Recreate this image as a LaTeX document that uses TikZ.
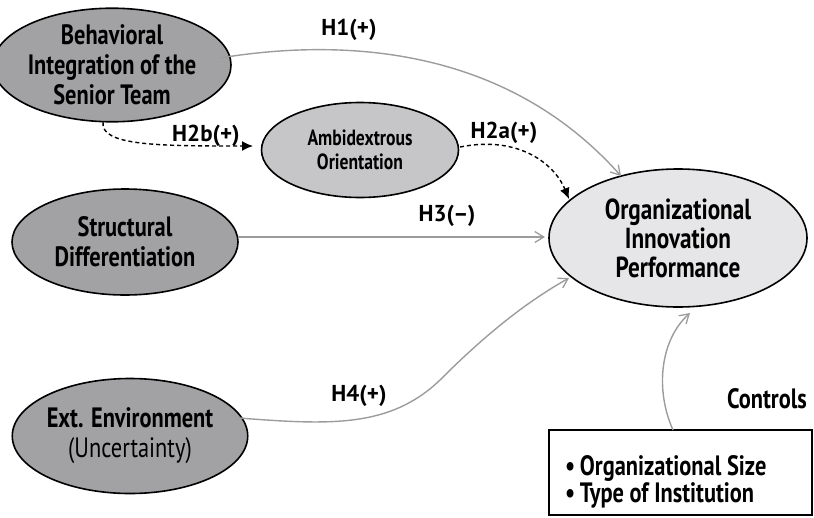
\documentclass[tikz,border=0pt]{standalone}
\usepackage{fontspec}
\setmainfont{PT Sans}
\newfontfamily\cond[FakeStretch=0.8]{PT Sans}
\usetikzlibrary{shapes.geometric,arrows.meta}
\definecolor{darkfill}{HTML}{A2A2A4}
\definecolor{midfill}{HTML}{C6C6C8}
\definecolor{lightfill}{HTML}{E6E6E8}
\definecolor{arrgray}{HTML}{9C9C9C}
\tikzset{
  blob/.style={ellipse, draw=black, line width=1.6pt, inner sep=0pt, align=center, font=\cond\bfseries\fontsize{28}{30}\selectfont},
  garrow/.style={draw=arrgray, line width=1.4pt, -{Straight Barb[length=9pt,width=11pt,line width=1.3pt]}},
  darrow/.style={draw=black, line width=1.4pt, dash pattern=on 4pt off 3pt, -{Latex[length=11pt,width=10pt]}},
  hlabel/.style={font=\bfseries\fontsize{23}{25}\selectfont},
}
\begin{document}
\begin{tikzpicture}[x=1pt,y=-1pt]
\useasboundingbox (0,0) rectangle (814,517);
\node[blob, fill=darkfill, minimum width=216pt, minimum height=108pt] (bi) at (112,65) {Behavioral\\Integration of the\\Senior Team};
\node[blob, fill=midfill, minimum width=197pt, minimum height=95pt, font=\cond\bfseries\fontsize{22}{24}\selectfont] (ao) at (360,150) {Ambidextrous\\Orientation};
\node[blob, fill=darkfill, minimum width=226pt, minimum height=106pt] (sd) at (125,242) {Structural\\Differentiation};
\node[blob, fill=darkfill, minimum width=215pt, minimum height=115pt] (ee) at (130,436) {Ext. Environment\\{\mdseries (Uncertainty)}};
\node[blob, fill=lightfill, minimum width=258pt, minimum height=138pt, font=\cond\bfseries\fontsize{29}{29}\selectfont] (oi) at (678,238) {Organizational\\Innovation\\Performance};
\node[draw=black, line width=1.3pt, minimum width=263pt, minimum height=85pt, inner sep=0pt] (cb) at (680.5,472.5) {};
\node[anchor=west, align=left, inner sep=0pt, font=\cond\bfseries\fontsize{28}{27}\selectfont] (cl) at (565,482) {\textbullet\,Organizational Size\\\textbullet\,Type of Institution};
\node[font=\cond\bfseries\fontsize{28}{28}\selectfont] (ct) at (767,399) {Controls};
\coordinate (h1s) at (220,58);
\coordinate (h1e) at (621,176);
\draw[garrow] (h1s) .. controls (330,40) and (500,40) .. (h1e);
\node[hlabel] (l1) at (349,30) {H1(+)};
\coordinate (h2bs) at (103,122);
\coordinate (h2be) at (253,146);
\draw[darrow] (h2bs) .. controls (100,146) and (160,146) .. (h2be);
\node[hlabel] (l2b) at (206,136) {H2b(+)};
\coordinate (h2as) at (460,147);
\coordinate (h2ae) at (569,199);
\draw[darrow] (h2as) .. controls (520,135) and (555,165) .. (h2ae);
\node[hlabel] (l2a) at (504,133) {H2a(+)};
\coordinate (h3s) at (238,237);
\coordinate (h3e) at (545,237);
\draw[garrow] (h3s) -- (h3e);
\node[hlabel] (l3) at (447,216) {H3(--)};
\coordinate (h4s) at (239,418);
\coordinate (h4e) at (569,278);
\draw[garrow] (h4s) .. controls (330,425) and (390,428) .. (440,380) .. controls (490,330) and (530,300) .. (h4e);
\node[hlabel] (l4) at (359,396) {H4(+)};
\coordinate (cs) at (673,430);
\coordinate (ce) at (690,313);
\draw[garrow] (cs) .. controls (655,390) and (660,340) .. (ce);
\end{tikzpicture}
\end{document}
